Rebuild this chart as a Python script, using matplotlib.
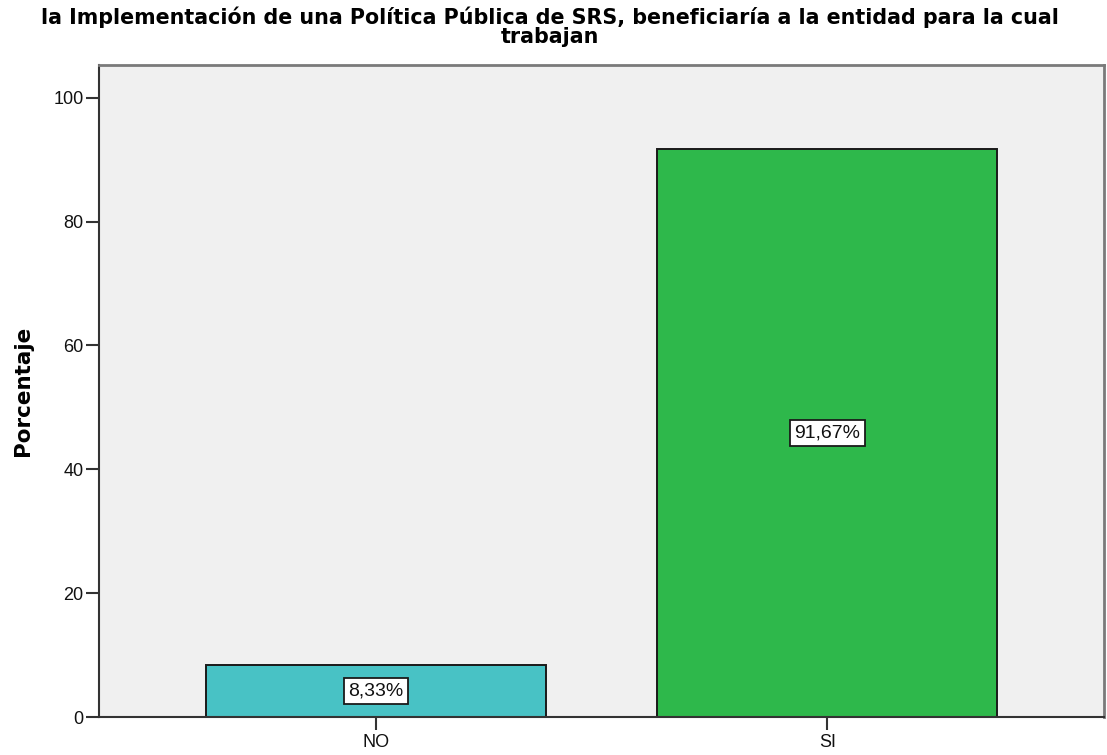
import matplotlib.pyplot as plt
import numpy as np

plt.rcParams['font.family'] = ['Liberation Sans', 'DejaVu Sans']

# data
categorias = ['NO', 'SI']
porcentajes = [8.33, 91.67]
etiquetas = ['8,33%', '91,67%']
colores = ['#48C2C5', '#2EB84B']
yticks = [0, 20, 40, 60, 80, 100]

fig = plt.figure(figsize=(11.07, 7.55), dpi=100)
ax = fig.add_axes([99 / 1107, 38 / 755, 1005 / 1107, 652 / 755])
ax.set_facecolor('#F0F0F0')

x = np.arange(len(categorias))
ax.bar(x, porcentajes, width=0.752, color=colores,
       edgecolor='#1a1a1a', linewidth=1.4, zorder=2)

# value labels in white boxes, middle of each bar
for xi, val, lab in zip(x, porcentajes, etiquetas):
    ax.text(xi, val / 2, lab, ha='center', va='center', fontsize=14,
            color='#111111', zorder=3,
            bbox=dict(boxstyle='square,pad=0.22', facecolor='white',
                      edgecolor='#1a1a1a', linewidth=1.3))

ax.set_xlim(-0.613, 1.613)
ax.set_ylim(0, 105.3)
ax.set_xticks(x)
ax.set_xticklabels(categorias, fontsize=13)
ax.set_yticks(yticks)
ax.set_yticklabels([str(t) for t in yticks], fontsize=13)
ax.tick_params(axis='both', direction='out', length=9.5, width=1.5,
               color='#333333', labelcolor='#111111')
ax.tick_params(axis='y', pad=1.5)
ax.tick_params(axis='x', pad=3)

for side in ['left', 'bottom']:
    ax.spines[side].set_color('#333333')
    ax.spines[side].set_linewidth(1.5)
for side in ['top', 'right']:
    ax.spines[side].set_color('#7a7a7a')
    ax.spines[side].set_linewidth(2)

ax.set_ylabel('Porcentaje', fontsize=15.5, fontweight='bold',
              family=['DejaVu Sans'])
ax.yaxis.set_label_coords(-0.066, 0.5)

fig.text(0.497, 1 - 24 / 755,
         'la Implementación de una Política Pública de SRS, beneficiaría a la entidad para la cual',
         ha='center', va='baseline', fontsize=14.9, fontweight='bold',
         family=['DejaVu Sans'])
fig.text(0.497, 1 - 43 / 755, 'trabajan', ha='center', va='baseline',
         fontsize=14.9, fontweight='bold', family=['DejaVu Sans'])

fig.savefig('out.png', dpi=100)
